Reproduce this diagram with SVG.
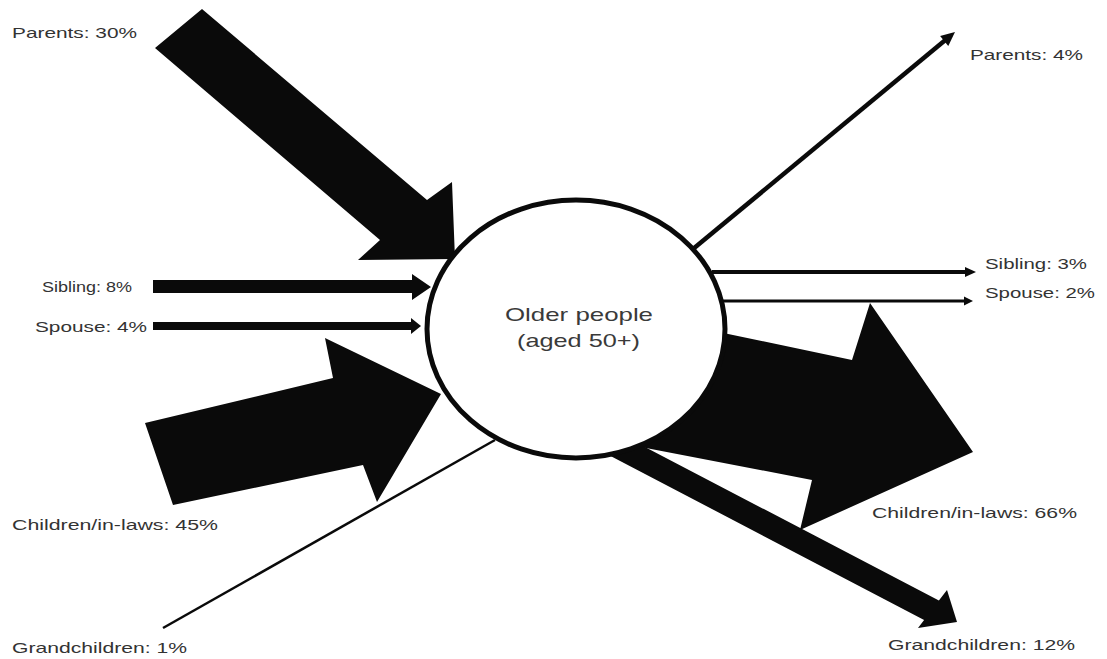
<svg xmlns="http://www.w3.org/2000/svg" width="1107" height="659" viewBox="0 0 1107 659">
<style>
  .lbl { font-family: "Liberation Sans", Arial, sans-serif; font-size: 15px; fill: #333; }
  .ctr { font-family: "Liberation Sans", Arial, sans-serif; font-size: 19px; fill: #3a3a3a; }
  .fat { fill: #0a0a0a; stroke: none; }
  .thin { stroke: #0a0a0a; fill: none; }
</style>
<rect width="1107" height="659" fill="#ffffff"/>
<g id="connectors">
  <g id="in-parents"><polygon class="fat" points="202,9 427,200 452,182 455,259 358,260 380,240 155,48"/></g>
  <g id="in-sibling"><polygon class="fat" points="153,280 412,280 412,274 431,287 412,300 412,293 153,293"/></g>
  <g id="in-spouse"><polygon class="fat" points="153,322 411,322 411,318 421,326 411,334 411,330 153,330"/></g>
  <g id="in-children"><polygon class="fat" points="145,423 333,378 325,338 441,394 377,502 363,465 173,505"/></g>
  <g id="in-grandchildren"><line class="thin" stroke-width="2.5" x1="163" y1="628" x2="495" y2="440"/></g>
  <g id="out-parents">
    <line class="thin" stroke-width="4.5" x1="693" y1="249" x2="946" y2="39.5"/>
    <polygon class="fat" points="955,32 948.3,45.9 940.1,35.9"/>
  </g>
  <g id="out-sibling">
    <line class="thin" stroke-width="4" x1="712" y1="272" x2="967" y2="272"/>
    <polygon class="fat" points="965,267 976,272 965,277"/>
  </g>
  <g id="out-spouse">
    <line class="thin" stroke-width="3" x1="722" y1="301" x2="965" y2="301"/>
    <polygon class="fat" points="964,296.5 973,301 964,305.5"/>
  </g>
  <g id="out-children"><polygon class="fat" points="690,326 852,360 870,303 973,452 800,530 812,480 620,443"/></g>
  <g id="out-grandchildren"><polygon class="fat" points="600,423.4 938.9,600.6 947,590 957,622 918,628 924.1,620 590,445.2"/></g>
</g>
<g id="node-older">
  <ellipse cx="576" cy="329" rx="149" ry="129" fill="#ffffff" stroke="#0a0a0a" stroke-width="5"/>
  <text class="ctr" x="505" y="321" textLength="148" lengthAdjust="spacingAndGlyphs">Older people</text>
  <text class="ctr" x="517" y="347" textLength="123" lengthAdjust="spacingAndGlyphs">(aged 50+)</text>
</g>
<g id="labels">
  <g id="lbl-in-parents"><text class="lbl" x="12" y="38" textLength="125" lengthAdjust="spacingAndGlyphs">Parents: 30%</text></g>
  <g id="lbl-out-parents"><text class="lbl" x="970" y="60" textLength="113" lengthAdjust="spacingAndGlyphs">Parents: 4%</text></g>
  <g id="lbl-in-sibling"><text class="lbl" x="42" y="292" textLength="90" lengthAdjust="spacingAndGlyphs">Sibling: 8%</text></g>
  <g id="lbl-in-spouse"><text class="lbl" x="35" y="332" textLength="112" lengthAdjust="spacingAndGlyphs">Spouse: 4%</text></g>
  <g id="lbl-in-children"><text class="lbl" x="12" y="530" textLength="206" lengthAdjust="spacingAndGlyphs">Children/in-laws: 45%</text></g>
  <g id="lbl-in-grandchildren"><text class="lbl" x="12" y="653" textLength="175" lengthAdjust="spacingAndGlyphs">Grandchildren: 1%</text></g>
  <g id="lbl-out-sibling"><text class="lbl" x="985" y="269" textLength="102" lengthAdjust="spacingAndGlyphs">Sibling: 3%</text></g>
  <g id="lbl-out-spouse"><text class="lbl" x="985" y="298" textLength="110" lengthAdjust="spacingAndGlyphs">Spouse: 2%</text></g>
  <g id="lbl-out-children"><text class="lbl" x="872" y="518" textLength="205" lengthAdjust="spacingAndGlyphs">Children/in-laws: 66%</text></g>
  <g id="lbl-out-grandchildren"><text class="lbl" x="888" y="650" textLength="187" lengthAdjust="spacingAndGlyphs">Grandchildren: 12%</text></g>
</g>
</svg>
